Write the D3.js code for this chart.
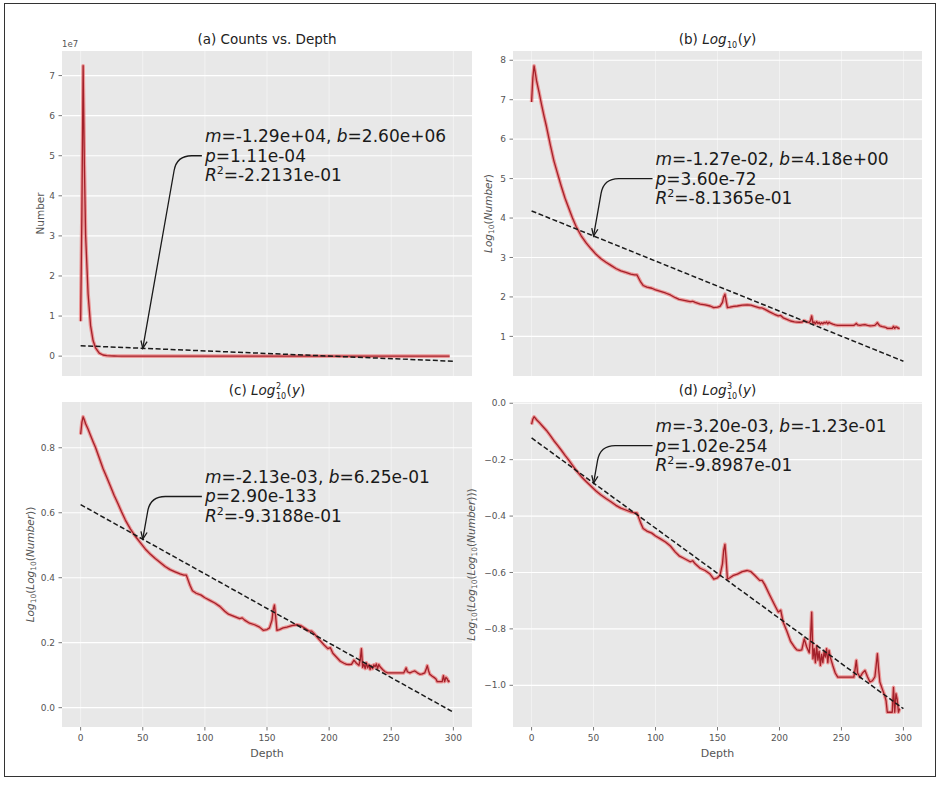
<!DOCTYPE html>
<html>
<head>
<meta charset="utf-8">
<script src="https://cdn.jsdelivr.net/npm/d3@7"></script>
<style>
  body { margin: 0; background: #fff; }
  svg text { font-family: "DejaVu Sans", sans-serif; white-space: pre; }
</style>
</head>
<body>
<div id="chart"></div>
<script>
// depth (m) and log10 of the count (b) / (d)
const depth = [0,1,2,3,4,6,8,10,12,15,18,21,24,27,30,33,36,40,44,48,52,56,60,64,68,72,76,80,83,85,86,88,90,93,97,
  100,104,108,112,116,119,122,125,128,130,132,136,140,144,147,150,152,154,155,156,157,158,160,163,166,170,174,177,180,
  184,186,188,192,196,199,201,203,206,209,212,214,216,218,220,222,224,225,226,227,228,229,230,231,232,233,234,235,236,
  237,238,239,240,241,243,245,247,250,255,260,261,262,263,265,267,269,271,273,275,277,278,279,280,281,283,285,286,287,
  289,291,292,293,294,295,296,297];
const logCount = [6.94,7.55,7.86,7.68,7.48,7.19,6.88,6.59,6.32,5.87,5.45,5.12,4.80,4.50,4.25,4.00,3.78,3.55,3.37,3.22,
  3.08,2.97,2.88,2.80,2.72,2.66,2.62,2.58,2.56,2.56,2.50,2.38,2.29,2.25,2.22,
  2.18,2.14,2.10,2.05,1.98,1.94,1.92,1.90,1.88,1.89,1.86,1.82,1.80,1.77,1.73,1.74,1.76,1.86,2.00,2.07,1.90,1.73,1.74,
  1.76,1.77,1.79,1.80,1.79,1.76,
  1.72,1.72,1.69,1.62,1.56,1.52,1.53,1.47,1.43,1.39,1.37,1.36,1.358,1.36,1.40,1.37,1.35,1.40,1.519,1.331,1.364,1.319,
  1.374,1.327,1.355,1.311,1.345,1.319,1.355,
  1.336,1.364,1.319,1.358,1.336,1.311,1.29,1.279,1.279,1.279,1.279,1.30,1.326,1.29,1.279,1.29,1.297,1.28,1.267,1.27,
  1.28,1.31,1.347,1.30,1.267,1.25,1.235,1.225,1.203,
  1.203,1.203,1.254,1.203,1.24,1.228,1.203,1.21];

// linear fits shown in each panel
const fitM = [-1.29e4, -1.27e-2, -2.13e-3, -3.20e-3];
const fitB = [2.60e6, 4.18, 6.25e-1, -1.23e-1];
const fitP = [1.11e-4, 3.60e-72, 2.90e-133, 1.02e-254];
const fitR2 = [-2.2131e-1, -8.1365e-1, -9.3188e-1, -9.8987e-1];
const noteY = [5e7, 5, 0.65, -0.15];   // annotation text height, data units
const noteX = 100, arrowX = 50;

const xTicks = [0, 50, 100, 150, 200, 250, 300];
const yTicksA = [0, 1e7, 2e7, 3e7, 4e7, 5e7, 6e7, 7e7];
const yTicksB = [1, 2, 3, 4, 5, 6, 7, 8];
const yTicksC = [0, 0.2, 0.4, 0.6, 0.8];
const yTicksD = [-1.0, -0.8, -0.6, -0.4, -0.2, 0.0];

const W = 940, H = 790;
const svg = d3.select('#chart').append('svg').attr('width', W).attr('height', H);
svg.append('rect').attr('x', 4.5).attr('y', 3.5).attr('width', 931).attr('height', 773)
  .attr('fill', 'none').attr('stroke', '#333').attr('stroke-width', 1);

const log10 = Math.log10;
const panels = [
  { x0: 62, x1: 472, y0: 51, y1: 376, tf: v => Math.pow(10, v), ticks: yTicksA, fmt: d => d3.format('d')(d / 1e7),
    xlab: false, ylabOff: -22, key: 'a' },
  { x0: 513, x1: 922, y0: 51, y1: 376, tf: v => v, ticks: yTicksB, fmt: d3.format('d'),
    xlab: false, ylabOff: -25, key: 'b' },
  { x0: 62, x1: 472, y0: 402, y1: 727, tf: v => log10(v), ticks: yTicksC, fmt: d3.format('.1f'),
    xlab: true, ylabOff: -32, key: 'c' },
  { x0: 513, x1: 922, y0: 402, y1: 727, tf: v => log10(log10(v)), ticks: yTicksD, fmt: d3.format('.1f'),
    xlab: true, ylabOff: -42, key: 'd' }
];

// matplotlib style "%.2e"
function fmtE(v, n) {
  return v.toExponential(n).replace(/e([+-])(\d)$/, 'e$10$2');
}

// append pieces as tspans
function rich(sel, parts) {
  parts.forEach(p => {
    const t = sel.append('tspan').text(p.t);
    if (p.i) t.attr('font-style', 'italic');
    if (p.s) t.attr('font-size', p.s);
    if (p.dy) t.attr('dy', p.dy);
    if (p.dx) t.attr('dx', p.dx);
  });
  return sel;
}

// title laid out left to right, stacked sup/sub as their own texts, then centred
function mathTitle(g, cx, base, pieces) {
  const tg = g.append('g');
  let cur = 0;
  pieces.forEach(p => {
    if (p.t !== undefined) {
      const t = tg.append('text').attr('x', cur).attr('y', 0).attr('font-size', 13.5).attr('fill', '#222').text(p.t);
      if (p.i) t.attr('font-style', 'italic');
      cur += t.node().getComputedTextLength();
    } else {
      let w = 0;
      if (p.sup) {
        const t = tg.append('text').attr('x', cur + 0.5).attr('y', -6.5).attr('font-size', 8).attr('fill', '#222').text(p.sup);
        w = Math.max(w, t.node().getComputedTextLength());
      }
      if (p.sub) {
        const t = tg.append('text').attr('x', cur + 0.5).attr('y', 3.5).attr('font-size', 8).attr('fill', '#222').text(p.sub);
        w = Math.max(w, t.node().getComputedTextLength());
      }
      cur += w + 1;
    }
  });
  tg.attr('transform', `translate(${cx - cur / 2},${base})`);
}

function titlePieces(k) {
  if (k === 'a') return [{ t: '(a) Counts vs. Depth' }];
  const st = { b: { sub: '10' }, c: { sup: '2', sub: '10' }, d: { sup: '3', sub: '10' } }[k];
  return [{ t: '(' + k + ')\u00a0' }, { t: 'Log', i: true }, st, { t: '(' }, { t: 'y', i: true }, { t: ')' }];
}

function ylabParts(k) {
  if (k === 'a') return [{ t: 'Number' }];
  const n = { b: 1, c: 2, d: 3 }[k];
  const parts = [];
  for (let i = 0; i < n; i++) parts.push({ t: 'Log', i: true }, { t: '10', s: '7.5px', dy: 2.5 }, { t: '(', dy: -2.5 });
  parts.push({ t: 'Number', i: true }, { t: ')'.repeat(n) });
  return parts;
}

const series = depth.map((d, i) => ({ x: d, v: logCount[i] }));

panels.forEach((p, k) => {
  const g = svg.append('g');
  const vals = series.map(s => ({ x: s.x, y: p.tf(s.v) }));
  const fitLine = [0, 300].map(x => ({ x: x, y: fitM[k] * x + fitB[k] }));

  // 5% margins round everything drawn
  const xAll = d3.extent(vals.concat(fitLine), d => d.x);
  const yAll = d3.extent(vals.concat(fitLine), d => d.y);
  const px = (xAll[1] - xAll[0]) * 0.05, py = (yAll[1] - yAll[0]) * 0.05;
  const x = d3.scaleLinear().domain([xAll[0] - px, xAll[1] + px]).range([p.x0, p.x1]);
  const y = d3.scaleLinear().domain([yAll[0] - py, yAll[1] + py]).range([p.y1, p.y0]);

  g.append('rect').attr('x', p.x0).attr('y', p.y0).attr('width', p.x1 - p.x0).attr('height', p.y1 - p.y0)
    .attr('fill', '#e8e8e8');

  // grid
  g.selectAll('.hg').data(p.ticks).enter().append('line')
    .attr('x1', p.x0).attr('x2', p.x1).attr('y1', d => y(d)).attr('y2', d => y(d))
    .attr('stroke', '#fff').attr('stroke-width', 1.2);
  g.selectAll('.vg').data(xTicks).enter().append('line')
    .attr('y1', p.y0).attr('y2', p.y1).attr('x1', d => x(d)).attr('x2', d => x(d))
    .attr('stroke', '#fff').attr('stroke-opacity', 0.45).attr('stroke-width', 1);

  // y ticks
  g.selectAll('.yt').data(p.ticks).enter().append('line')
    .attr('x1', p.x0 - 3.5).attr('x2', p.x0).attr('y1', d => y(d)).attr('y2', d => y(d))
    .attr('stroke', '#777');
  g.selectAll('.yl').data(p.ticks).enter().append('text')
    .attr('x', p.x0 - 7).attr('y', d => y(d)).attr('dy', '0.35em')
    .attr('text-anchor', 'end').attr('font-size', 9).attr('fill', '#555')
    .text(p.fmt);

  if (p.xlab) {
    g.selectAll('.xt').data(xTicks).enter().append('line')
      .attr('y1', p.y1).attr('y2', p.y1 + 3.5).attr('x1', d => x(d)).attr('x2', d => x(d))
      .attr('stroke', '#777');
    g.selectAll('.xl').data(xTicks).enter().append('text')
      .attr('x', d => x(d)).attr('y', p.y1 + 11).attr('dy', '0.35em')
      .attr('text-anchor', 'middle').attr('font-size', 9).attr('fill', '#555')
      .text(d => d);
    g.append('text').attr('x', (p.x0 + p.x1) / 2).attr('y', p.y1 + 26).attr('dy', '0.35em')
      .attr('text-anchor', 'middle').attr('font-size', 11).attr('fill', '#555').text('Depth');
  }
  if (k === 0) {
    g.append('text').attr('x', p.x0).attr('y', p.y0 - 4).attr('font-size', 8.5).attr('fill', '#555').text('1e7');
  }

  // title
  mathTitle(g, (p.x0 + p.x1) / 2, p.y0 - 7, titlePieces(p.key));

  // y label
  const cy = (p.y0 + p.y1) / 2, lx = p.x0 + p.ylabOff;
  rich(g.append('text').attr('transform', `translate(${lx},${cy}) rotate(-90)`)
    .attr('text-anchor', 'middle').attr('dy', '0.35em').attr('font-size', 10.5).attr('fill', '#555'), ylabParts(p.key));

  // data line: soft red halo + darker core
  const line = d3.line().x(d => x(d.x)).y(d => y(d.y));
  g.append('path').datum(vals).attr('d', line).attr('fill', 'none')
    .attr('stroke', '#f04848').attr('stroke-opacity', 0.5).attr('stroke-width', 3.6).attr('stroke-linejoin', 'round');
  g.append('path').datum(vals).attr('d', line).attr('fill', 'none')
    .attr('stroke', '#a3202a').attr('stroke-width', 1.3).attr('stroke-linejoin', 'round');

  // fit line
  g.append('path').datum(fitLine).attr('d', line).attr('fill', 'none')
    .attr('stroke', '#1a1a1a').attr('stroke-width', 1.5).attr('stroke-dasharray', '5,2.5');

  // annotation text
  const tx = x(noteX), ty = y(noteY[k]);
  const lines = [
    [{ t: 'm', i: true }, { t: '=' + fmtE(fitM[k], 2) + ', ' }, { t: 'b', i: true }, { t: '=' + fmtE(fitB[k], 2) }],
    [{ t: 'p', i: true }, { t: '=' + fmtE(fitP[k], 2) }],
    [{ t: 'R', i: true }, { t: '2', s: '11px', dy: -7 }, { t: '=' + fmtE(fitR2[k], 4), dy: 7 }]
  ];
  lines.forEach((ln, j) => {
    rich(g.append('text').attr('x', tx).attr('y', ty + (j - 1) * 19.5).attr('dy', '0.35em')
      .attr('font-size', 17).attr('fill', '#1a1a1a'), ln);
  });

  // annotation arrow (horizontal arm, rounded corner, then straight to target)
  const T = [x(arrowX), y(fitM[k] * arrowX + fitB[k])];
  const S = [tx - 3, ty];
  const C = [T[0] + (T[1] - S[1]) / Math.tan(80 * Math.PI / 180), S[1]];
  const len = Math.hypot(T[0] - C[0], T[1] - C[1]);
  const u = [(T[0] - C[0]) / len, (T[1] - C[1]) / len];
  const r = Math.min(15, (S[0] - C[0]) * 0.8, len * 0.4);
  const P1 = [C[0] + r, C[1]], P2 = [C[0] + u[0] * r, C[1] + u[1] * r];
  const pth = d3.path();
  pth.moveTo(S[0], S[1]); pth.lineTo(P1[0], P1[1]);
  pth.quadraticCurveTo(C[0], C[1], P2[0], P2[1]); pth.lineTo(T[0], T[1]);
  g.append('path').attr('d', pth.toString()).attr('fill', 'none').attr('stroke', '#1a1a1a').attr('stroke-width', 1.3);
  const ang = Math.atan2(u[1], u[0]), hl = 8, ha = 0.4;
  const head = d3.path();
  head.moveTo(T[0] - hl * Math.cos(ang - ha), T[1] - hl * Math.sin(ang - ha));
  head.lineTo(T[0], T[1]);
  head.lineTo(T[0] - hl * Math.cos(ang + ha), T[1] - hl * Math.sin(ang + ha));
  g.append('path').attr('d', head.toString()).attr('fill', 'none').attr('stroke', '#1a1a1a').attr('stroke-width', 1.3);
});
</script>
</body>
</html>
